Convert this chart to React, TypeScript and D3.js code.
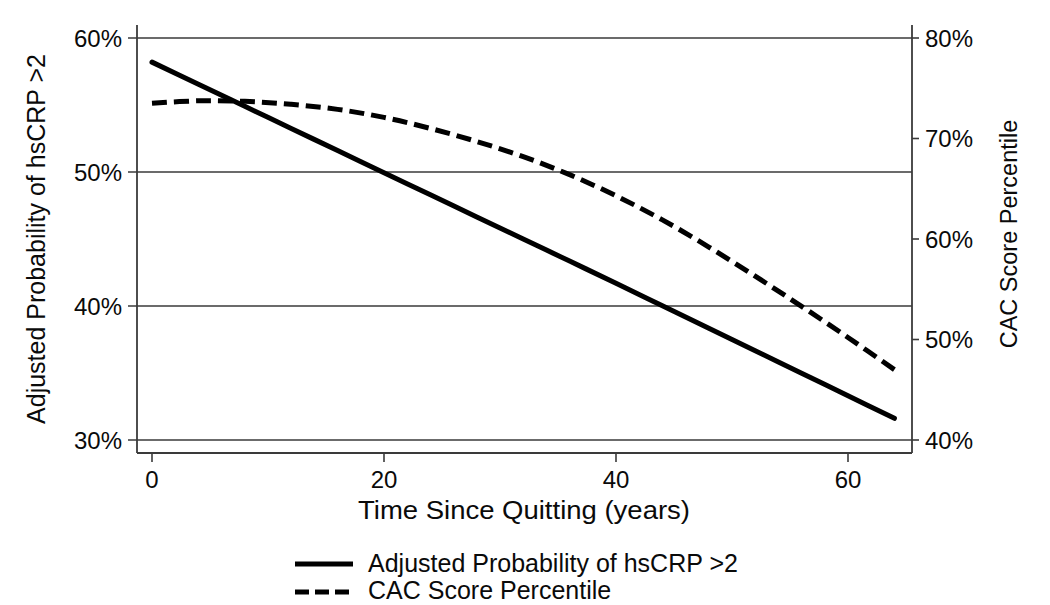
import React from "react";
import * as d3 from "d3";

const years = [0, 4, 8, 12, 16, 20, 24, 28, 32, 36, 40, 44, 48, 52, 56, 60, 64];
const hscrpProb = [58.2, 56.55, 54.9, 53.25, 51.6, 49.95, 48.3, 46.65, 45.0, 43.35, 41.7, 40.02, 38.34, 36.66, 34.98, 33.3, 31.62];
const cacPercentile = [73.5, 73.75, 73.7, 73.4, 72.9, 72.1, 71.0, 69.7, 68.2, 66.4, 64.3, 61.9, 59.2, 56.3, 53.3, 50.2, 47.0];

const xTicks = [0, 20, 40, 60];
const leftTicks = [30, 40, 50, 60];
const rightTicks = [40, 50, 60, 70, 80];

const leftTitle = "Adjusted Probability of hsCRP >2";
const rightTitle = "CAC Score Percentile";
const xTitle = "Time Since Quitting (years)";
const legendLabels = ["Adjusted Probability of hsCRP >2", "CAC Score Percentile"];

const FONT = "'Liberation Sans', Arial, Helvetica, sans-serif";

export default function App() {
  const W = 1050, H = 605;
  const left = 137, right = 912, top = 25, bottom = 453;

  const x = d3.scaleLinear().domain([0, 60]).range([152, 848]);
  const yL = d3.scaleLinear().domain([30, 60]).range([440, 38]);
  const yR = d3.scaleLinear().domain([40, 80]).range([440, 38]);

  const lineL = d3.line<number>()
    .x((_, i) => x(years[i]))
    .y((d) => yL(d))
    .curve(d3.curveCatmullRom);
  const lineR = d3.line<number>()
    .x((_, i) => x(years[i]))
    .y((d) => yR(d))
    .curve(d3.curveCatmullRom);

  const axisColor = "#3a3a3a";
  const textColor = "#0a0a0a";

  return (
    <svg
      width={W}
      height={H}
      style={{ position: "absolute", left: 0, top: 0, background: "#fff" }}
      fontFamily={FONT}
    >
      <rect x={0} y={0} width={W} height={H} fill="#fff" />
      {/* gridlines + left ticks */}
      {leftTicks.map((t) => (
        <g key={"l" + t}>
          <line x1={128} x2={right} y1={yL(t)} y2={yL(t)} stroke={axisColor} strokeWidth={1.6} />
          <text x={122} y={yL(t)} dy="0.36em" textAnchor="end" fontSize={24} fill={textColor}>
            {t}%
          </text>
        </g>
      ))}
      {/* right ticks */}
      {rightTicks.map((t) => (
        <g key={"r" + t}>
          <line x1={right} x2={919} y1={yR(t)} y2={yR(t)} stroke={axisColor} strokeWidth={1.6} />
          <text x={925} y={yR(t)} dy="0.36em" textAnchor="start" fontSize={24} fill={textColor}>
            {t}%
          </text>
        </g>
      ))}
      {/* frame */}
      <line x1={left} x2={left} y1={top} y2={bottom} stroke={axisColor} strokeWidth={1.8} />
      <line x1={right} x2={right} y1={top} y2={bottom} stroke={axisColor} strokeWidth={1.8} />
      <line x1={left} x2={right} y1={bottom} y2={bottom} stroke={axisColor} strokeWidth={1.8} />
      {/* x ticks */}
      {xTicks.map((t) => (
        <g key={"x" + t}>
          <line x1={x(t)} x2={x(t)} y1={bottom} y2={462} stroke={axisColor} strokeWidth={1.6} />
          <text x={x(t)} y={488} textAnchor="middle" fontSize={24} fill={textColor}>
            {t}
          </text>
        </g>
      ))}
      {/* axis titles */}
      <text
        x={524}
        y={519}
        textAnchor="middle"
        fontSize={26}
        fill={textColor}
        textLength={332}
        lengthAdjust="spacingAndGlyphs"
      >
        {xTitle}
      </text>
      <text
        transform={`translate(45, 239) rotate(-90)`}
        textAnchor="middle"
        fontSize={25}
        fill={textColor}
      >
        {leftTitle}
      </text>
      <text
        transform={`translate(1017, 234) rotate(-90)`}
        textAnchor="middle"
        fontSize={23.5}
        fill={textColor}
      >
        {rightTitle}
      </text>
      {/* data lines */}
      <path d={lineL(hscrpProb) || ""} fill="none" stroke="#000" strokeWidth={5} strokeLinecap="round" />
      <path
        d={lineR(cacPercentile) || ""}
        fill="none"
        stroke="#000"
        strokeWidth={5}
        strokeDasharray="15 7"
      />
      {/* legend */}
      <line x1={295} x2={353} y1={564} y2={564} stroke="#000" strokeWidth={5} />
      <text x={368} y={572} fontSize={25} fill={textColor}>
        {legendLabels[0]}
      </text>
      <line x1={295} x2={353} y1={592} y2={592} stroke="#000" strokeWidth={5} strokeDasharray="14 6" />
      <text x={368} y={599} fontSize={25} fill={textColor}>
        {legendLabels[1]}
      </text>
    </svg>
  );
}
